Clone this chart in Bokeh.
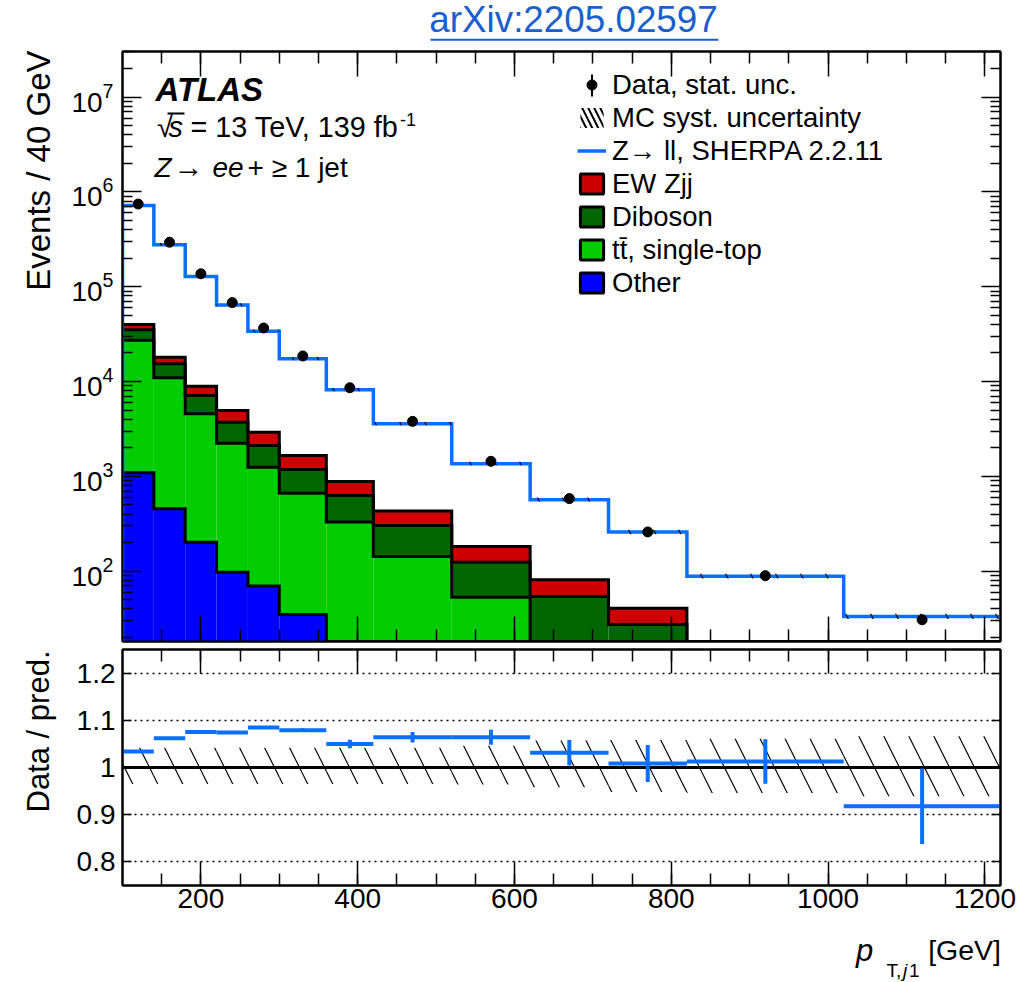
import numpy as np
from bokeh.plotting import figure
from bokeh.models import (Range1d, FixedTicker, LinearAxis, LogAxis, Label, Legend,
                          LegendItem, BoxAnnotation, Span, Title)
from bokeh.layouts import column
from bokeh.embed import file_html
from bokeh.resources import INLINE

FONT = "Liberation Sans"

# ---------------- data ----------------
bin_edges = [100, 140, 180, 220, 260, 300, 360, 420, 520, 620, 720, 820, 1020, 1220]
data_events = [7.45e5, 2.95e5, 1.37e5, 6.8e4, 3.67e4, 1.86e4, 8.6e3, 3.8e3, 1.44e3, 582, 259, 89.5, 30.7]
zll_pred = [7.2e5, 2.78e5, 1.285e5, 6.43e4, 3.40e4, 1.74e4, 8.18e3, 3.59e3, 1.36e3, 566, 258, 88.5, 33.3]
other_bkg = [1090, 455, 202, 97.6, 69.5, 34.9, 0, 0, 0, 0, 0, 0, 0]
top_bkg = [26100, 10500, 4370, 2140, 1180, 630, 329, 143, 53, 10, 6, 3, 1]
diboson_bkg = [8000, 4430, 2560, 1490, 870, 518, 300, 160, 71, 44, 21.4, 6, 3]
ewzjj_bkg = [4800, 2670, 1800, 1230, 800, 477, 255, 127, 57.5, 27, 13.3, 5, 2]
ratio_vals = [1.034, 1.062, 1.075, 1.074, 1.085, 1.079, 1.050, 1.064, 1.064, 1.031, 1.0085, 1.0127, 0.918]
ratio_errs = [0.002, 0.002, 0.002, 0.002, 0.003, 0.004, 0.009, 0.011, 0.016, 0.027, 0.039, 0.047, 0.080]
syst_up = [0.042, 0.042, 0.042, 0.042, 0.042, 0.042, 0.042, 0.042, 0.046, 0.057, 0.058, 0.061, 0.066]
syst_dn = [0.035, 0.035, 0.035, 0.035, 0.035, 0.035, 0.035, 0.035, 0.036, 0.042, 0.052, 0.054, 0.061]
x_major = [200, 400, 600, 800, 1000, 1200]
x_minor = list(range(150, 1220, 50))
ratio_major = [0.8, 0.9, 1.0, 1.1, 1.2]
ratio_tick_labels = {0.8: "0.8", 0.9: "0.9", 1.0: "1", 1.1: "1.1", 1.2: "1.2"}
log_major = [1e2, 1e3, 1e4, 1e5, 1e6, 1e7]

C_EW, C_DIB, C_TOP, C_OTH = "#cc0000", "#006600", "#00cc00", "#0000ff"
C_Z = "#0a6eff"
C_LINK = "#1b5fcc"

edges = np.array(bin_edges, float)
lo, hi = edges[:-1], edges[1:]
ctr = 0.5 * (lo + hi)
zll = np.array(zll_pred, float)
up = np.array(syst_up); dn = np.array(syst_dn)
rv = np.array(ratio_vals); re = np.array(ratio_errs)
YMIN, YMAX = 18.1, 3.03e7
log_minor = [m * 10 ** k for k in range(1, 8) for m in range(2, 10) if YMIN <= m * 10 ** k <= YMAX]

FRAME_LEFT = 122
HEAD_H = 49
TOP_FRAME_TOP, TOP_FRAME_BOT = 51, 641
RAT_FRAME_TOP, RAT_FRAME_BOT = 649, 885
RAT_BORDER_BOT = 40
FOOT_TOP = RAT_FRAME_BOT + RAT_BORDER_BOT
FOOT_H = 982 - FOOT_TOP
MID = 0.347  # distance (in em) from the alphabetic baseline up to the text's middle


def style_axis(ax, major_in, minor_in, labels=True, size="28px", standoff=8):
    ax.major_tick_in = major_in
    ax.major_tick_out = 0
    ax.minor_tick_in = minor_in
    ax.minor_tick_out = 0
    ax.major_tick_line_width = 1.5
    ax.minor_tick_line_width = 1.5
    ax.major_tick_line_color = "black"
    ax.minor_tick_line_color = "black"
    ax.axis_line_width = 2
    ax.axis_line_color = "black"
    ax.major_label_text_font = FONT
    ax.major_label_text_color = "black"
    if labels:
        ax.major_label_text_font_size = size
        ax.major_label_standoff = standoff
    else:
        ax.major_label_text_font_size = "1px"
        ax.major_label_text_alpha = 0
        ax.major_label_standoff = 0


def text_on(fig, frame_bottom, px, py, text, size, style="normal", align="left", color="black"):
    """Place text whose alphabetic baseline sits at page pixel (px, py)."""
    fig.add_layout(Label(x=px - FRAME_LEFT, y=frame_bottom - py + MID * size,
                         x_units="screen", y_units="screen",
                         text=text, text_font=FONT, text_font_size=f"{size}px",
                         text_font_style=style, text_align=align, text_baseline="middle",
                         text_color=color))


def bar_on(fig, frame_bottom, x0, x1, y0, y1, color="black"):
    """Solid box between page pixels x0..x1, y0..y1 (y0 above y1)."""
    fig.add_layout(BoxAnnotation(left=x0 - FRAME_LEFT, right=x1 - FRAME_LEFT,
                                 top=frame_bottom - y0, bottom=frame_bottom - y1,
                                 left_units="screen", right_units="screen",
                                 top_units="screen", bottom_units="screen",
                                 fill_color=color, fill_alpha=1.0, line_color=None))


def text_fig(height):
    f = figure(width=1019, height=height, x_range=Range1d(0, 1), y_range=Range1d(0, 1),
               min_border=0, x_axis_location=None, y_axis_location=None,
               outline_line_color=None, toolbar_location=None, output_backend="svg",
               background_fill_color="white", border_fill_color="white")
    f.grid.visible = False
    return f


# ---------------- header (link title) ----------------
head = text_fig(HEAD_H)
text_on(head, HEAD_H, 428.8, 31.7, "arXiv:2205.02597", 36.8, color=C_LINK)
bar_on(head, HEAD_H, 430, 718, 38.2, 40.2, color=C_LINK)

# ---------------- top panel ----------------
top = figure(width=1019, height=TOP_FRAME_BOT + 4 - HEAD_H,
             x_range=Range1d(100, 1220), y_range=Range1d(YMIN, YMAX),
             y_axis_type="log", min_border_left=FRAME_LEFT, min_border_right=19,
             min_border_top=TOP_FRAME_TOP - HEAD_H, min_border_bottom=4,
             output_backend="svg", toolbar_location=None,
             outline_line_color="black", outline_line_width=2,
             background_fill_color="white", border_fill_color="white")
top.xgrid.visible = False
top.ygrid.visible = False

xt = FixedTicker(ticks=x_major, minor_ticks=x_minor)
yt = FixedTicker(ticks=log_major, minor_ticks=log_minor)
top.xaxis.ticker = xt
top.yaxis.ticker = yt
style_axis(top.xaxis[0], 25, 12, labels=False)
style_axis(top.yaxis[0], 19, 10, labels=True, size="28px", standoff=9)
ax_above = LinearAxis(ticker=xt)
style_axis(ax_above, 25, 12, labels=False)
top.add_layout(ax_above, "above")
ax_right = LogAxis(ticker=yt)
style_axis(ax_right, 19, 10, labels=False)
top.add_layout(ax_right, "right")
top.add_layout(Title(text="Events / 40 GeV", align="right", offset=-1, standoff=24,
                     text_font=FONT, text_font_size="33px", text_font_style="normal",
                     text_color="black"), "left")

layers = [(other_bkg, C_OTH), (top_bkg, C_TOP), (diboson_bkg, C_DIB), (ewzjj_bkg, C_EW)]
cum = np.zeros(len(lo))
cums = []
for vals, col in layers:
    b = np.maximum(cum, YMIN)
    cum = cum + np.array(vals, float)
    t = np.maximum(cum, YMIN)
    top.quad(left=lo, right=hi, bottom=b, top=t, fill_color=col, line_color=None)
    cums.append(cum.copy())

step_x = np.repeat(edges, 2)[:-1]
for c in cums:
    ys = np.concatenate([[YMIN], np.repeat(np.maximum(c, YMIN), 2)])
    top.line(step_x, ys, line_color="black", line_width=3, line_join="miter")

zys = np.concatenate([[YMIN], np.repeat(zll, 2)])
zline = top.line(step_x, zys, line_color=C_Z, line_width=3.5, line_join="miter")

top.quad(left=lo, right=hi, bottom=zll * (1 - dn), top=zll * (1 + up), fill_color=None,
         line_color=None, hatch_pattern="\\", hatch_scale=50, hatch_weight=1.2, hatch_color="black")

dots = top.scatter(ctr, data_events, size=10, color="black")

# legend proxies (one NaN entry each, so nothing is drawn in the plot)
NAN = [np.nan]
d_hatch = top.quad(left=NAN, right=NAN, bottom=NAN, top=NAN, fill_color=None, line_color=None,
                   hatch_pattern="\\", hatch_scale=12, hatch_weight=2, hatch_color="black")
proxies = {}
for name, col in [("ew", C_EW), ("dib", C_DIB), ("top", C_TOP), ("oth", C_OTH)]:
    proxies[name] = top.quad(left=NAN, right=NAN, bottom=NAN, top=NAN, fill_color=col,
                             line_color="black", line_width=3)

legend = Legend(items=[
    LegendItem(label="Data, stat. unc.", renderers=[dots]),
    LegendItem(label="MC syst. uncertainty", renderers=[d_hatch]),
    LegendItem(label="Z\u2192 ll, SHERPA 2.2.11", renderers=[zline]),
    LegendItem(label="EW Zjj", renderers=[proxies["ew"]]),
    LegendItem(label="Diboson", renderers=[proxies["dib"]]),
    LegendItem(label="t\u0074\u0304, single-top", renderers=[proxies["top"]]),
    LegendItem(label="Other", renderers=[proxies["oth"]]),
], location=(455, 342.5))
legend.label_text_font = FONT
legend.label_text_font_size = "27.5px"
legend.label_text_color = "black"
legend.glyph_width = 29
legend.glyph_height = 25
legend.label_standoff = 6
legend.spacing = 1
legend.padding = 0
legend.margin = 0
legend.border_line_color = None
legend.background_fill_alpha = 0
top.add_layout(legend)
# vertical stat bar on the data legend marker
bar_on(top, TOP_FRAME_BOT, 590.5, 592.5, 74, 96)

FB = TOP_FRAME_BOT
text_on(top, FB, 155, 100, "ATLAS", 33, style="bold italic")
text_on(top, FB, 156.5, 136.7, "\u221a", 28.8)
text_on(top, FB, 168, 136.7, "s", 28.8, style="italic")
bar_on(top, FB, 167, 184, 112, 114)
text_on(top, FB, 190, 136.7, "= 13 TeV, 139 fb", 28.8)
text_on(top, FB, 399.5, 125, "-1", 18)
text_on(top, FB, 154, 176.7, "Z", 28, style="italic")
text_on(top, FB, 173, 176.7, "\u2192", 30)
text_on(top, FB, 212, 176.7, "ee", 28, style="italic")
text_on(top, FB, 247, 176.7, "+ \u2265 1 jet", 28)

# ---------------- ratio panel ----------------
rat = figure(width=1019, height=RAT_FRAME_BOT + RAT_BORDER_BOT - (TOP_FRAME_BOT + 4),
             x_range=top.x_range, y_range=Range1d(0.75, 1.25),
             min_border_left=FRAME_LEFT, min_border_right=19, min_border_top=4,
             min_border_bottom=RAT_BORDER_BOT,
             output_backend="svg", toolbar_location=None,
             outline_line_color="black", outline_line_width=2,
             background_fill_color="white", border_fill_color="white")
rat.xgrid.visible = False
rt = FixedTicker(ticks=ratio_major, minor_ticks=[])
rat.xaxis.ticker = xt
rat.yaxis.ticker = rt
rat.ygrid.ticker = FixedTicker(ticks=[0.8, 0.9, 1.1, 1.2])
rat.ygrid.grid_line_color = "black"
rat.ygrid.grid_line_dash = "2 4"
rat.ygrid.grid_line_width = 1.5
style_axis(rat.xaxis[0], 24, 12, labels=True, size="28px", standoff=3)
style_axis(rat.yaxis[0], 9, 0, labels=True, size="28px", standoff=7)
rat.yaxis[0].major_label_overrides = ratio_tick_labels
r_above = LinearAxis(ticker=xt)
style_axis(r_above, 24, 12, labels=False)
rat.add_layout(r_above, "above")
r_right = LinearAxis(ticker=rt)
style_axis(r_right, 9, 0, labels=False)
rat.add_layout(r_right, "right")
rat.add_layout(Title(text="Data / pred.", align="right", offset=1, standoff=36,
                     text_font=FONT, text_font_size="31px", text_font_style="normal",
                     text_color="black"), "left")

rat.add_layout(Span(location=1.0, dimension="width", line_color="black", line_width=3,
                    level="underlay"))
rat.quad(left=lo, right=hi, bottom=1 - dn, top=1 + up, fill_color=None, line_color=None,
         hatch_pattern="\\", hatch_scale=50, hatch_weight=1.2, hatch_color="black")
rat.segment(x0=lo, x1=hi, y0=rv, y1=rv, line_color=C_Z, line_width=4)
rat.segment(x0=ctr, x1=ctr, y0=rv - re, y1=rv + re, line_color=C_Z, line_width=4)

# ---------------- footer (x-axis title) ----------------
foot = text_fig(FOOT_H)
text_on(foot, 982, 855.5, 960.5, "p", 31, style="italic")
text_on(foot, 982, 886, 977, "T,", 19)
text_on(foot, 982, 902.5, 977, "j", 19, style="italic")
text_on(foot, 982, 908.5, 977, "1", 19)
text_on(foot, 982, 1000.5, 959.5, "[GeV]", 28.5, align="right")

layout = column(head, top, rat, foot, spacing=0)
open("out.html", "w").write(file_html(layout, INLINE))
